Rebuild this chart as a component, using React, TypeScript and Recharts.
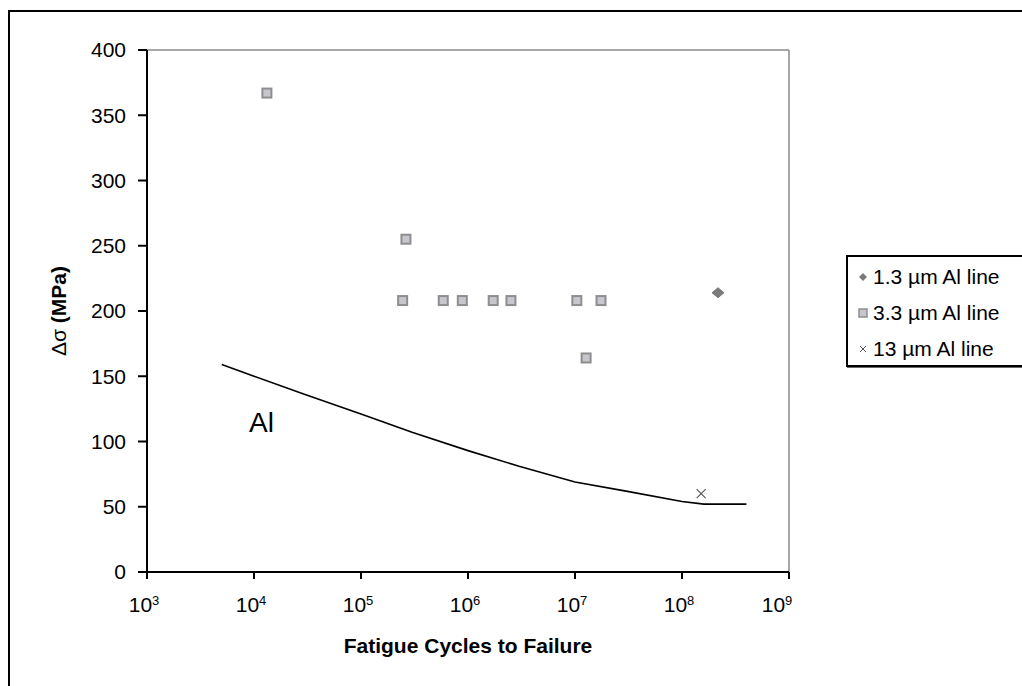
import React from 'react';
import {
  ScatterChart,
  Scatter,
  XAxis,
  YAxis,
  ReferenceLine,
} from 'recharts';

// cycles to failure (x) and stress range in MPa (y)
const thinLineX = [2.17e8];
const thinLineY = [214];

const midLineX = [1.32e4, 2.45e5, 2.63e5, 5.87e5, 8.85e5, 1.72e6, 2.52e6, 1.04e7, 1.27e7, 1.75e7];
const midLineY = [367, 208, 255, 208, 208, 208, 208, 208, 164, 208];

const wideLineX = [1.51e8];
const wideLineY = [60];

// bulk Al fatigue curve
const alCurveX = [5e3, 1e4, 3e4, 1e5, 3e5, 1e6, 3e6, 1e7, 3e7, 1e8, 1.6e8, 4e8];
const alCurveY = [159, 150, 136, 121, 107, 93, 81, 69, 62, 54, 52, 52];

const xTicks = [1e3, 1e4, 1e5, 1e6, 1e7, 1e8, 1e9];
const yTicks = [0, 50, 100, 150, 200, 250, 300, 350, 400];

const legendLabels = ['1.3 µm Al line', '3.3 µm Al line', '13 µm Al line'];

const zip = (xs: number[], ys: number[]) => xs.map((x, i) => ({ x, y: ys[i] }));

const FONT = '"Liberation Sans", Arial, sans-serif';

const SquareDot = (props: any) => {
  const { cx, cy } = props;
  if (cx == null || cy == null) return <g />;
  return (
    <rect x={cx - 4.5} y={cy - 4.5} width={9} height={9} fill="#c6c6ce" stroke="#8e8e8e" strokeWidth={2} />
  );
};

const DiamondDot = (props: any) => {
  const { cx, cy } = props;
  if (cx == null || cy == null) return <g />;
  return (
    <polygon
      points={`${cx},${cy - 5} ${cx + 6},${cy} ${cx},${cy + 5} ${cx - 6},${cy}`}
      fill="#7a7a7a"
      stroke="#7a7a7a"
      strokeWidth={1}
    />
  );
};

const CrossDot = (props: any) => {
  const { cx, cy } = props;
  if (cx == null || cy == null) return <g />;
  return (
    <g stroke="#555" strokeWidth={1.2}>
      <line x1={cx - 4.5} y1={cy - 4.5} x2={cx + 4.5} y2={cy + 4.5} />
      <line x1={cx - 4.5} y1={cy + 4.5} x2={cx + 4.5} y2={cy - 4.5} />
    </g>
  );
};

const NoDot = () => <g />;

const PowerTick = (props: any) => {
  const { x, y, payload } = props;
  const exp = Math.round(Math.log10(payload.value));
  return (
    <text x={x - 3} y={y} dy="0.71em" textAnchor="middle" fill="#000" fontFamily={FONT} fontSize={21}>
      <tspan>10</tspan>
      <tspan fontSize={13} dy={-7}>{exp}</tspan>
    </text>
  );
};

const LegendMark = ({ kind }: { kind: number }) => (
  <svg width={12} height={12} style={{ marginRight: 4 }}>
    {kind === 0 && <polygon points="6,2 10,6 6,10 2,6" fill="#7a7a7a" />}
    {kind === 1 && <rect x={2} y={2} width={8} height={8} fill="#c6c6ce" stroke="#8e8e8e" strokeWidth={1.5} />}
    {kind === 2 && (
      <g stroke="#555" strokeWidth={1}>
        <line x1={3} y1={3} x2={9} y2={9} />
        <line x1={3} y1={9} x2={9} y2={3} />
      </g>
    )}
  </svg>
);

export default function App() {
  return (
    <div
      style={{
        position: 'absolute',
        left: 0,
        top: 0,
        width: 1022,
        height: 686,
        overflow: 'hidden',
        background: '#fff',
        fontFamily: FONT,
      }}
    >
      {/* outer chart frame, only top/left visible in the crop */}
      <div
        style={{
          position: 'absolute',
          left: 8,
          top: 10,
          width: 1030,
          height: 700,
          borderLeft: '2px solid #000',
          borderTop: '2px solid #000',
        }}
      />

      <div style={{ position: 'absolute', left: 0, top: 0 }}>
        <ScatterChart width={820} height={686} margin={{ top: 50, right: 31, left: 67, bottom: 74 }}>
          <XAxis
            type="number"
            dataKey="x"
            scale="log"
            domain={[1e3, 1e9]}
            ticks={xTicks}
            allowDataOverflow
            height={40}
            axisLine={{ stroke: '#000', strokeWidth: 2 }}
            tickLine={{ stroke: '#000', strokeWidth: 2 }}
            tickSize={7}
            tickMargin={18}
            tick={<PowerTick />}
          />
          <YAxis
            type="number"
            dataKey="y"
            domain={[0, 400]}
            ticks={yTicks}
            width={80}
            axisLine={{ stroke: '#000', strokeWidth: 2 }}
            tickLine={{ stroke: '#000', strokeWidth: 2 }}
            tickSize={9}
            tickMargin={12}
            tick={{ fill: '#000', fontSize: 21, fontFamily: FONT }}
          />
          <ReferenceLine y={400} stroke="#8a8a8a" strokeWidth={1.5} />
          <ReferenceLine x={1e9} stroke="#8a8a8a" strokeWidth={1.5} />
          <Scatter
            data={zip(alCurveX, alCurveY)}
            line={{ stroke: '#000', strokeWidth: 1.6 }}
            lineType="joint"
            shape={<NoDot />}
            isAnimationActive={false}
          />
          <Scatter data={zip(midLineX, midLineY)} shape={<SquareDot />} isAnimationActive={false} />
          <Scatter data={zip(thinLineX, thinLineY)} shape={<DiamondDot />} isAnimationActive={false} />
          <Scatter data={zip(wideLineX, wideLineY)} shape={<CrossDot />} isAnimationActive={false} />
        </ScatterChart>
      </div>

      {/* curve label */}
      <div style={{ position: 'absolute', left: 249, top: 407, fontSize: 28, color: '#000', lineHeight: '32px' }}>
        Al
      </div>

      {/* y axis title */}
      <div
        style={{
          position: 'absolute',
          left: 59,
          top: 311,
          transform: 'translate(-50%, -50%) rotate(-90deg)',
          whiteSpace: 'nowrap',
          fontSize: 21,
          color: '#000',
        }}
      >
        <span>Δσ </span>
        <span style={{ fontWeight: 'bold' }}>(MPa)</span>
      </div>

      {/* x axis title */}
      <div
        style={{
          position: 'absolute',
          left: 468,
          top: 646,
          transform: 'translate(-50%, -50%)',
          whiteSpace: 'nowrap',
          fontSize: 21,
          fontWeight: 'bold',
          color: '#000',
        }}
      >
        Fatigue Cycles to Failure
      </div>

      {/* legend box */}
      <div
        style={{
          position: 'absolute',
          left: 846,
          top: 255,
          width: 200,
          height: 108,
          borderLeft: '2px solid #000',
          borderTop: '2px solid #000',
          borderBottom: '2px solid #000',
          boxShadow: '1px 1px 0 #666',
        }}
      >
        {legendLabels.map((label, i) => (
          <div
            key={label}
            style={{
              position: 'absolute',
              left: 9,
              top: 6 + i * 36,
              height: 28,
              display: 'flex',
              alignItems: 'center',
              fontSize: 21,
              color: '#000',
              whiteSpace: 'nowrap',
            }}
          >
            <LegendMark kind={i} />
            {label}
          </div>
        ))}
      </div>
    </div>
  );
}
